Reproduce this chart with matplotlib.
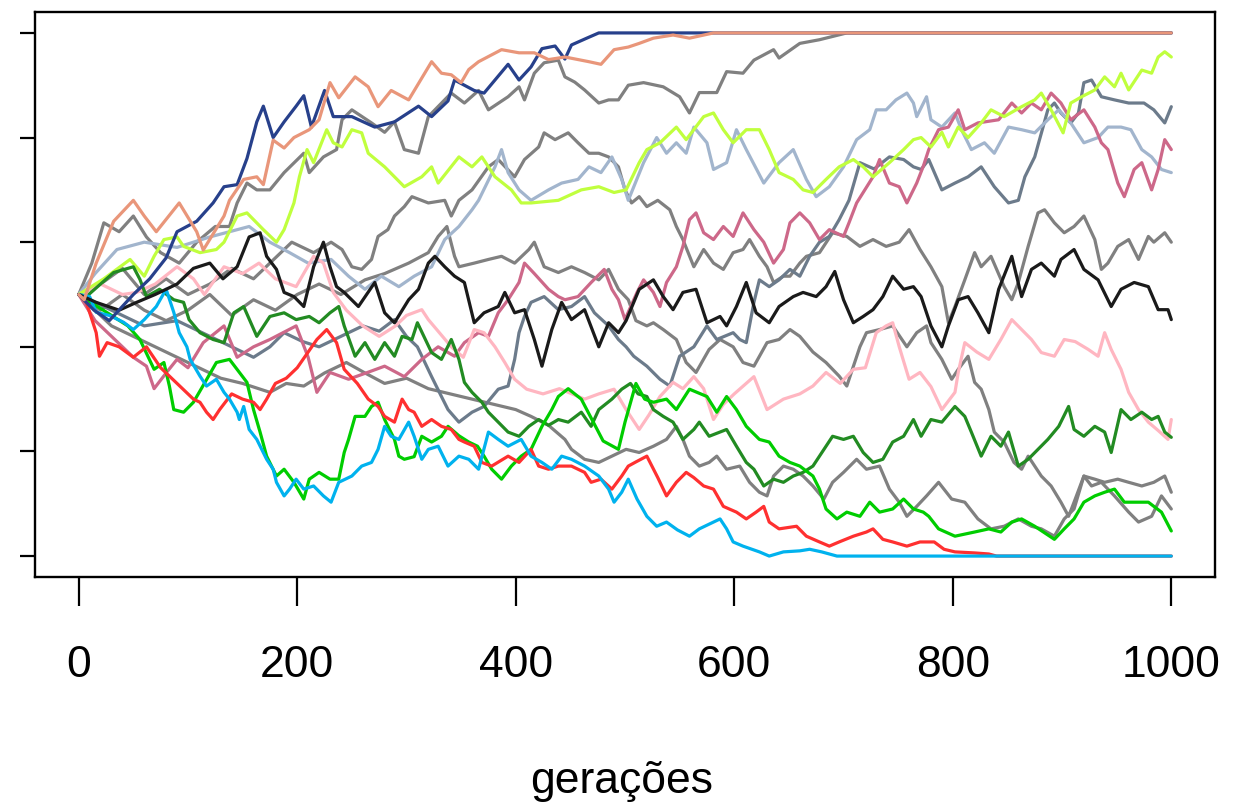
import matplotlib
matplotlib.use("Agg")
import matplotlib.pyplot as plt

# ---- data: (generation, allele frequency) ----
gray_fix1 = [(0,.50),(12,.56),(23,.637),(37,.62),(50,.65),(62,.61),(75,.58),(92,.56),(108,.60),(125,.63),(138,.63),
    (145,.675),(154,.713),(163,.70),(175,.70),(188,.733),(206,.77),(211,.733),(224,.763),(236,.777),(241,.834),
    (250,.853),(268,.828),(280,.81),(289,.83),(298,.777),(311,.77),(320,.84),(341,.885),(353,.866),(366,.89),
    (375,.853),(393,.878),(403,.897),(408,.872),(417,.923),(426,.943),(439,.948),(445,.916),(454,.906),(463,.891),
    (476,.866),(485,.872),(494,.872),(503,.90),(517,.905),(535,.897),(550,.878),(559,.847),(568,.886),(584,.886),
    (593,.926),(608,.923),(618,.948),(636,.968),(641,.952),(660,.98),(678,.987),(703,1.0),(1000,1.0)]

gray_mid = [(0,.50),(20,.52),(40,.55),(60,.50),(80,.53),(100,.50),(120,.52),(140,.55),(160,.53),(180,.57),(195,.60),
    (215,.58),(231,.60),(241,.586),(250,.553),(259,.548),(268,.567),(274,.611),(283,.624),(289,.65),(298,.668),
    (305,.687),(320,.675),(335,.68),(341,.65),(348,.68),(360,.70),(375,.744),(384,.758),(399,.725),(408,.758),
    (421,.782),(426,.809),(436,.796),(448,.809),(457,.79),(467,.77),(476,.77),(485,.763),(494,.744),(500,.70),
    (506,.675),(513,.687),(520,.668),(530,.68),(541,.662),(547,.63),(553,.605),(563,.553),(572,.586),(581,.56),
    (590,.548),(599,.58),(608,.586),(614,.605),(623,.573),(630,.553),(636,.523),(645,.535),(651,.535),(660,.56),
    (666,.573),(678,.58),(690,.618),(703,.611),(715,.592),(727,.605),(739,.592),(751,.60),(760,.624),(770,.586),
    (780,.553),(790,.515),(796,.446),(802,.477),(811,.528),(820,.58),(826,.553),(835,.573),(847,.515),(854,.49),
    (860,.523),(869,.592),(878,.656),(884,.662),(893,.637),(902,.618),(911,.63),(920,.65),(930,.605),(936,.548),
    (942,.56),(951,.592),(961,.605),(970,.567),(979,.611),(984,.60),(994,.618),(1000,.60)]

gray_low1 = [(0,.50),(20,.47),(40,.50),(60,.47),(80,.45),(100,.47),(120,.50),(140,.46),(160,.49),(180,.47),(200,.50),
    (220,.52),(240,.50),(262,.528),(280,.54),(302,.56),(320,.58),(329,.611),(337,.63),(344,.573),(348,.553),
    (362,.56),(375,.567),(387,.573),(399,.56),(412,.586),(417,.60),(426,.553),(439,.542),(451,.553),(463,.542),
    (476,.528),(485,.548),(494,.51),(503,.49),(510,.45),(520,.44),(526,.446),(535,.433),(547,.414),(556,.37),
    (565,.351),(577,.395),(587,.414),(599,.40),(608,.37),(618,.363),(630,.408),(641,.414),(651,.433),(660,.42),
    (672,.39),(684,.37),(696,.344),(703,.325),(715,.40),(721,.427),(733,.433),(745,.44),(758,.40),(767,.427),
    (776,.44),(780,.408),(790,.376),(799,.338),(805,.357),(814,.382),(820,.332),(826,.319),(833,.28),(838,.237),
    (847,.218),(856,.179),(863,.166),(869,.191),(875,.172),(881,.153),(890,.134),(899,.103),(906,.076),(911,.103),
    (920,.153),(930,.147),(939,.141),(951,.147),(961,.141),(973,.134),(984,.141),(994,.153),(1000,.122)]

gray_low2 = [(0,.50),(15,.47),(30,.44),(50,.42),(70,.40),(90,.38),(110,.36),(130,.34),(150,.33),(175,.313),(190,.33),
    (206,.325),(225,.35),(245,.37),(262,.35),(280,.33),(300,.34),(320,.32),(340,.31),(360,.30),(380,.29),(400,.28),
    (414,.267),(430,.25),(445,.223),(451,.204),(463,.185),(476,.179),(488,.191),(501,.204),(513,.198),(526,.21),
    (538,.223),(547,.248),(553,.223),(559,.191),(568,.172),(577,.179),(584,.191),(593,.166),(605,.172),(614,.141),
    (623,.122),(630,.115),(636,.153),(645,.172),(654,.166),(663,.153),(672,.134),(682,.109),(690,.141),(700,.16),
    (712,.185),(721,.166),(733,.172),(742,.128),(751,.103),(758,.076),(767,.095),(776,.115),(787,.141),(799,.109),
    (811,.103),(823,.071),(835,.052),(847,.057),(860,.071),(872,.057),(881,.052),(893,.038),(902,.071),(911,.09),
    (920,.153),(927,.134),(936,.141),(948,.115),(961,.084),(970,.065),(982,.076),(991,.115),(1000,.09)]

slategray = [(0,.50),(20,.48),(40,.46),(60,.44),(90,.45),(120,.42),(140,.40),(160,.38),(175,.40),(188,.427),(205,.41),
    (220,.40),(240,.42),(260,.44),(275,.43),(289,.452),(300,.42),(310,.40),(323,.343),(332,.305),(338,.28),
    (348,.256),(360,.275),(371,.286),(384,.319),(393,.325),(399,.376),(403,.427),(408,.458),(414,.485),(426,.496),
    (439,.471),(451,.477),(463,.496),(472,.465),(485,.44),(494,.414),(501,.40),(508,.382),(520,.363),(532,.338),
    (541,.325),(550,.382),(563,.40),(575,.44),(584,.414),(599,.427),(605,.414),(611,.408),(618,.485),(623,.528),
    (632,.515),(641,.528),(651,.548),(660,.535),(669,.573),(678,.60),(687,.611),(696,.643),(705,.68),(715,.752),
    (728,.74),(742,.763),(755,.758),(764,.744),(771,.739),(778,.758),(790,.70),(802,.713),(814,.725),(826,.744),
    (838,.706),(851,.675),(860,.68),(866,.725),(875,.763),(887,.853),(893,.866),(899,.847),(908,.828),(915,.847),
    (920,.905),(927,.91),(936,.878),(948,.872),(961,.866),(975,.866),(984,.853),(994,.828),(1000,.859)]

steelblue = [(0,.50),(15,.54),(35,.586),(60,.60),(90,.59),(120,.61),(156,.63),(175,.60),(193,.58),(210,.56),(231,.567),
    (247,.535),(262,.51),(277,.535),(293,.515),(307,.535),(323,.553),(335,.605),(348,.63),(360,.662),(366,.68),
    (381,.744),(387,.777),(393,.733),(403,.70),(414,.68),(430,.70),(442,.713),(457,.72),(467,.744),(478,.733),
    (488,.763),(497,.72),(503,.68),(517,.752),(529,.80),(538,.77),(547,.79),(556,.77),(563,.82),(575,.79),
    (581,.739),(593,.752),(602,.815),(611,.777),(627,.713),(641,.752),(654,.777),(666,.72),(675,.687),(687,.706),
    (700,.744),(712,.796),(724,.815),(730,.853),(739,.853),(748,.872),(758,.885),(764,.866),(767,.84),(776,.878),
    (780,.834),(790,.82),(802,.847),(808,.815),(817,.777),(829,.79),(838,.77),(851,.82),(863,.815),(875,.809),
    (887,.834),(897,.853),(908,.828),(920,.79),(933,.80),(942,.82),(954,.82),(963,.815),(973,.777),(982,.763),
    (991,.739),(1000,.733)]

violetred = [(0,.50),(15,.45),(30,.42),(50,.38),(62,.363),(69,.32),(80,.35),(90,.376),(100,.36),(114,.408),(133,.44),
    (145,.38),(160,.40),(175,.414),(199,.44),(210,.38),(218,.313),(230,.351),(247,.338),(263,.35),(280,.363),
    (298,.343),(314,.376),(329,.40),(344,.382),(353,.408),(366,.427),(375,.42),(384,.465),(393,.49),(403,.523),
    (408,.56),(417,.54),(430,.51),(439,.496),(445,.49),(457,.496),(469,.523),(481,.548),(488,.51),(494,.49),
    (500,.452),(511,.504),(517,.528),(526,.504),(532,.477),(538,.523),(547,.553),(553,.592),(559,.643),(565,.656),
    (572,.618),(581,.605),(590,.63),(599,.611),(608,.656),(618,.624),(627,.60),(636,.56),(645,.586),(651,.637),
    (660,.656),(669,.637),(678,.605),(687,.624),(700,.611),(705,.637),(712,.675),(727,.725),(733,.758),(742,.713),
    (751,.706),(758,.675),(767,.713),(773,.745),(778,.777),(787,.815),(796,.82),(805,.853),(811,.815),(823,.828),
    (842,.834),(854,.866),(863,.847),(872,.866),(881,.853),(890,.885),(899,.866),(908,.834),(920,.853),(930,.82),
    (936,.79),(942,.777),(951,.713),(957,.687),(966,.739),(973,.752),(982,.70),(988,.739),(994,.796),(1000,.777)]

lightpink = [(0,.50),(20,.52),(40,.50),(53,.504),(70,.52),(90,.553),(105,.53),(115,.50),(133,.553),(150,.54),(165,.56),
    (180,.53),(199,.515),(215,.573),(224,.56),(233,.504),(245,.47),(260,.44),(275,.42),(290,.44),(300,.46),
    (314,.471),(320,.452),(341,.40),(352,.38),(362,.433),(371,.427),(381,.40),(390,.37),(399,.338),(410,.319),
    (425,.31),(440,.32),(463,.30),(476,.31),(490,.319),(501,.28),(513,.242),(522,.27),(532,.305),(544,.332),
    (553,.32),(563,.343),(572,.32),(581,.261),(590,.29),(600,.31),(618,.343),(630,.28),(645,.30),(660,.31),
    (672,.325),(684,.351),(697,.33),(709,.357),(720,.36),(730,.427),(739,.44),(745,.446),(751,.40),(760,.338),
    (770,.351),(780,.324),(790,.28),(802,.313),(805,.351),(811,.408),(822,.39),(833,.376),(844,.414),(854,.452),
    (863,.433),(872,.414),(881,.389),(893,.382),(902,.414),(912,.41),(924,.395),(933,.382),(939,.427),(945,.395),
    (954,.357),(961,.313),(970,.28),(979,.256),(988,.24),(997,.223),(1000,.261)]

greenyellow = [(0,.50),(23,.53),(47,.567),(60,.535),(69,.573),(78,.605),(90,.61),(96,.592),(111,.58),(126,.586),
    (133,.60),(145,.65),(154,.656),(169,.624),(181,.60),(188,.624),(197,.675),(202,.725),(209,.777),(215,.752),
    (227,.815),(233,.79),(241,.782),(250,.815),(259,.809),(265,.77),(280,.744),(289,.725),(298,.706),(314,.725),
    (323,.744),(329,.713),(348,.763),(360,.744),(369,.763),(381,.725),(396,.70),(405,.675),(414,.675),(439,.68),
    (460,.70),(476,.706),(490,.695),(501,.70),(513,.752),(520,.777),(532,.79),(547,.82),(556,.796),(572,.84),
    (581,.847),(590,.815),(599,.79),(611,.815),(623,.815),(632,.777),(641,.733),(654,.72),(663,.70),(672,.695),
    (684,.72),(696,.744),(709,.758),(718,.744),(727,.725),(742,.752),(755,.777),(764,.796),(771,.80),(780,.782),
    (790,.81),(796,.782),(805,.82),(814,.80),(826,.828),(835,.853),(847,.84),(863,.859),(875,.872),(881,.885),
    (890,.853),(901,.809),(908,.866),(918,.878),(930,.891),(939,.916),(948,.897),(954,.923),(961,.891),(973,.929),
    (982,.923),(988,.954),(994,.964),(1000,.954)]

forestgreen = [(0,.50),(7,.496),(20,.52),(32,.542),(50,.553),(56,.529),(62,.496),(74,.51),(87,.49),(96,.485),
    (101,.452),(111,.427),(123,.414),(133,.408),(142,.465),(151,.477),(163,.42),(175,.458),(188,.465),(199,.452),
    (211,.458),(220,.446),(230,.465),(238,.477),(243,.44),(253,.382),(262,.408),(271,.376),(280,.408),(289,.382),
    (296,.42),(305,.414),(310,.446),(323,.389),(332,.376),(341,.414),(348,.376),(353,.332),(360,.313),(369,.294),
    (375,.275),(384,.256),(393,.237),(403,.229),(412,.248),(421,.261),(430,.25),(439,.261),(448,.256),(460,.275),
    (469,.248),(476,.28),(488,.30),(497,.319),(505,.33),(512,.31),(520,.305),(526,.28),(535,.267),(544,.256),
    (553,.223),(563,.242),(568,.256),(577,.229),(593,.242),(602,.21),(611,.179),(618,.166),(627,.134),(636,.147),
    (645,.141),(654,.153),(663,.16),(672,.172),(678,.191),(690,.229),(700,.223),(709,.229),(718,.198),(727,.179),
    (736,.185),(745,.218),(755,.229),(764,.261),(771,.229),(780,.261),(790,.256),(802,.286),(811,.267),(817,.237),
    (826,.191),(835,.229),(844,.21),(851,.237),(860,.172),(869,.185),(878,.204),(887,.223),(897,.248),(906,.286),
    (911,.242),(920,.229),(930,.248),(939,.237),(945,.198),(954,.28),(963,.261),(973,.275),(982,.261),(988,.267),
    (994,.237),(1000,.227)]

limegreen = [(0,.50),(15,.48),(30,.46),(45,.44),(56,.414),(69,.357),(78,.37),(83,.325),(87,.28),(96,.275),(105,.294),
    (115,.33),(126,.37),(138,.376),(154,.332),(160,.28),(166,.237),(172,.191),(181,.153),(188,.166),(197,.141),
    (206,.109),(211,.147),(220,.16),(230,.147),(238,.147),(243,.198),(247,.223),(253,.267),(262,.267),(268,.286),
    (274,.294),(280,.261),(289,.223),(293,.191),(298,.185),(307,.19),(314,.229),(323,.218),(332,.229),(338,.248),
    (348,.23),(357,.218),(365,.21),(371,.191),(378,.166),(387,.147),(396,.172),(405,.191),(414,.204),(424,.248),
    (433,.28),(439,.305),(448,.32),(460,.30),(470,.26),(480,.22),(494,.204),(500,.256),(510,.33),(518,.30),
    (526,.294),(538,.30),(547,.28),(559,.319),(575,.305),(584,.275),(593,.305),(602,.28),(611,.248),(623,.223),
    (632,.218),(641,.191),(651,.179),(660,.172),(672,.153),(678,.128),(684,.09),(694,.071),(703,.084),(715,.076),
    (724,.103),(733,.084),(745,.09),(755,.109),(764,.09),(773,.084),(778,.076),(787,.052),(802,.038),(820,.046),
    (833,.052),(844,.046),(854,.065),(863,.071),(875,.057),(893,.032),(902,.052),(911,.071),(920,.103),(930,.115),
    (939,.122),(948,.128),(957,.103),(966,.103),(979,.103),(991,.084),(1000,.048)]

red = [(0,.50),(7,.485),(16,.427),(19,.382),(26,.408),(37,.40),(50,.38),(62,.40),(75,.36),(90,.33),(105,.30),
    (111,.294),(117,.275),(123,.261),(129,.28),(140,.31),(150,.30),(160,.294),(166,.28),(172,.30),(180,.33),
    (190,.34),(200,.36),(210,.39),(218,.414),(227,.433),(236,.408),(243,.357),(255,.33),(265,.30),(274,.286),
    (280,.267),(289,.256),(296,.30),(302,.28),(307,.275),(314,.248),(323,.261),(332,.248),(341,.242),(348,.223),
    (353,.218),(362,.21),(369,.179),(378,.172),(393,.191),(403,.179),(414,.204),(421,.172),(430,.166),(439,.172),
    (451,.172),(463,.16),(469,.141),(478,.147),(488,.128),(497,.153),(503,.172),(510,.18),(520,.191),(530,.15),
    (538,.115),(547,.141),(556,.16),(563,.15),(572,.134),(581,.128),(590,.095),(602,.084),(611,.071),(620,.084),
    (627,.095),(632,.065),(641,.052),(657,.057),(666,.038),(678,.027),(687,.019),(696,.027),(709,.038),(721,.046),
    (727,.052),(736,.032),(745,.027),(758,.019),(770,.027),(783,.027),(792,.013),(802,.008),(820,.006),(833,.004),
    (840,0.0),(1000,0.0)]

skyblue = [(0,.50),(10,.496),(16,.466),(28,.46),(41,.447),(50,.433),(60,.452),(71,.477),(80,.51),(87,.466),(92,.427),
    (99,.40),(102,.376),(111,.344),(117,.325),(126,.338),(133,.313),(138,.30),(145,.275),(147,.261),(151,.286),
    (156,.242),(163,.223),(172,.185),(178,.166),(181,.141),(188,.115),(193,.128),(199,.147),(206,.128),(215,.134),
    (224,.115),(231,.103),(238,.141),(250,.153),(259,.172),(268,.179),(274,.204),(280,.248),(286,.229),(293,.223),
    (302,.256),(307,.229),(314,.185),(320,.204),(329,.21),(338,.172),(348,.191),(357,.185),(366,.166),(375,.237),
    (384,.223),(393,.21),(405,.223),(414,.191),(424,.179),(433,.166),(442,.191),(451,.185),(463,.172),(476,.153),
    (485,.128),(490,.103),(497,.122),(503,.147),(511,.109),(520,.076),(529,.057),(538,.065),(548,.05),(559,.038),
    (568,.052),(581,.065),(587,.071),(593,.052),(599,.027),(608,.019),(623,.008),(632,0.0),(645,.008),(660,.01),
    (669,.013),(680,.008),(694,0.0),(1000,0.0)]

black = [(0,.50),(16,.485),(37,.47),(53,.485),(70,.50),(90,.52),(105,.55),(120,.56),(132,.53),(145,.553),(156,.61),
    (166,.618),(172,.573),(181,.548),(188,.504),(197,.496),(206,.477),(215,.553),(224,.60),(230,.553),(236,.515),
    (243,.504),(256,.477),(271,.523),(280,.465),(289,.446),(302,.49),(311,.51),(320,.56),(326,.573),(335,.553),
    (344,.535),(353,.523),(362,.446),(371,.465),(384,.477),(390,.504),(399,.465),(408,.471),(417,.414),(424,.363),
    (433,.433),(442,.485),(451,.452),(463,.471),(476,.40),(485,.446),(494,.427),(501,.45),(513,.51),(526,.528),
    (535,.496),(544,.471),(553,.504),(565,.51),(575,.446),(587,.458),(593,.44),(602,.477),(611,.523),(620,.465),
    (632,.446),(641,.477),(654,.496),(663,.504),(675,.496),(684,.515),(692,.544),(700,.49),(709,.446),(718,.458),
    (727,.471),(736,.496),(745,.535),(755,.51),(764,.515),(771,.496),(780,.44),(790,.40),(796,.44),(805,.49),
    (814,.496),(823,.465),(833,.427),(842,.51),(854,.573),(863,.496),(872,.548),(881,.56),(893,.535),(899,.567),
    (911,.586),(920,.548),(933,.528),(945,.477),(954,.51),(966,.523),(979,.515),(988,.471),(997,.471),(1000,.452)]

navy = [(0,.50),(14,.47),(28,.45),(50,.50),(65,.53),(80,.57),(90,.62),(108,.64),(123,.675),(133,.706),(145,.71),
    (154,.76),(163,.83),(169,.86),(178,.80),(188,.83),(199,.86),(206,.88),(213,.82),(225,.89),(233,.84),(250,.84),
    (271,.82),(289,.83),(311,.86),(323,.84),(338,.87),(344,.91),(362,.89),(371,.885),(393,.94),(403,.91),
    (414,.935),(424,.97),(436,.975),(445,.95),(451,.977),(465,.99),(476,1.0),(1000,1.0)]

salmon = [(0,.50),(5,.49),(16,.56),(32,.64),(50,.68),(60,.65),(71,.62),(92,.675),(108,.62),(114,.585),(133,.65),
    (138,.68),(151,.72),(163,.725),(169,.71),(178,.795),(188,.78),(197,.80),(211,.815),(220,.834),(230,.905),
    (238,.876),(253,.916),(265,.897),(274,.859),(286,.89),(302,.872),(323,.945),(332,.923),(341,.92),(350,.905),
    (357,.93),(366,.945),(387,.968),(403,.962),(417,.962),(430,.949),(445,.954),(467,.945),(478,.94),(490,.968),
    (503,.973),(513,.98),(526,.99),(544,.996),(559,.99),(581,1.0),(1000,1.0)]

x_ticks = [0, 200, 400, 600, 800, 1000]
y_ticks = [0.0, 0.2, 0.4, 0.6, 0.8, 1.0]
x_label = "gerações"

series = [
    (gray_low2, "#808080"), (gray_low1, "#808080"), (gray_mid, "#808080"), (gray_fix1, "#808080"),
    (slategray, "#6C7B8B"), (steelblue, "#A2B5CD"), (violetred, "#CD6889"), (lightpink, "#FFB6C1"),
    (greenyellow, "#C0FF3E"), (forestgreen, "#228B22"), (limegreen, "#00CD00"), (red, "#FF3030"),
    (skyblue, "#00B2EE"), (black, "#1A1A1A"), (navy, "#27408B"), (salmon, "#E9967A"),
]

plt.rcParams['font.family'] = ['Liberation Sans', 'DejaVu Sans']
fig = plt.figure(figsize=(12.5, 8.02), dpi=100)
ax = fig.add_axes([35/1250, 1-577/802, 1180/1250, 565/802])

for pts, col in series:
    g = [p[0] for p in pts]
    f = [p[1] for p in pts]
    ax.plot(g, f, color=col, lw=2.3, solid_joinstyle='round', solid_capstyle='round')

ax.set_xlim(-40, 1040)
ax.set_ylim(-0.04, 1.04)
ax.set_xticks(x_ticks)
ax.set_xticklabels([str(v) for v in x_ticks], fontsize=32)
ax.set_yticks(y_ticks)
ax.set_yticklabels([])
ax.tick_params(axis='x', length=21, width=1.6, pad=28, direction='out')
ax.tick_params(axis='y', length=11, width=1.6, direction='out')
for s in ax.spines.values():
    s.set_linewidth(1.7)

fig.text(622/1250, 1-793/802, x_label, fontsize=32, ha='center', va='baseline')

fig.savefig("out.png", dpi=100)
